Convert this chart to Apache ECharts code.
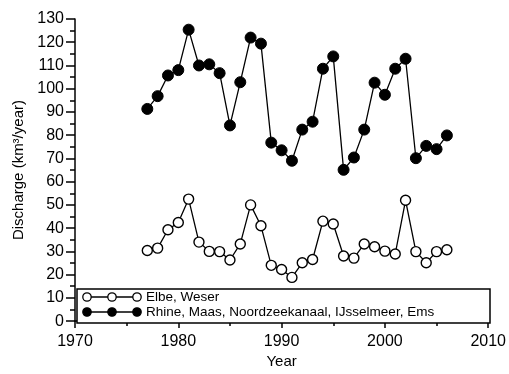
<!DOCTYPE html>
<html><head><meta charset="utf-8">
<script src="https://cdn.jsdelivr.net/npm/echarts@6/dist/echarts.min.js"></script>
<style>html,body{margin:0;padding:0;background:#fff}#c{width:509px;height:374px}</style>
</head><body><div id="c"></div>
<script>
const years = [1977,1978,1979,1980,1981,1982,1983,1984,1985,1986,1987,1988,1989,1990,1991,1992,1993,1994,1995,1996,1997,1998,1999,2000,2001,2002,2003,2004,2005,2006];
const elbe = [30.4,31.4,39.3,42.4,52.5,34,30,29.9,26.3,33.2,50,41,24,22.2,18.8,25.1,26.5,43,41.8,28,27.1,33.2,32,30.1,28.9,52,29.9,25.1,29.9,30.7];
const rhine = [91.3,96.8,105.7,108,125.4,110,110.5,106.7,84.2,102.8,122,119.4,76.8,73.5,69,82.4,85.8,108.6,113.9,65.1,70.4,82.4,102.6,97.4,108.6,112.9,70.1,75.4,74,79.9];
const seriesNames = ['Elbe, Weser','Rhine, Maas, Noordzeekanaal, IJsselmeer, Ems'];
const xTitle = 'Year';
const yTitle = 'Discharge (km³/year)';

const FONT = 'Liberation Sans';
const chart = echarts.init(document.getElementById('c'));
const pairs = arr => arr.map((v,i)=>[years[i], v]);

function legendRow(y, filled, label){
  const els = [{type:'line', shape:{x1:87,y1:y,x2:137,y2:y}, style:{stroke:'#000',lineWidth:1.3}}];
  [87,112,137].forEach(cx=>els.push({type:'circle', shape:{cx:cx,cy:y,r:4.2}, style:{fill:filled?'#000':'#fff', stroke:'#000', lineWidth:1.3}}));
  els.push({type:'text', x:146, y:y, style:{text:label, font:'13.5px "'+FONT+'"', fill:'#000', verticalAlign:'middle', align:'left'}});
  return els;
}

chart.setOption({
  animation:false,
  grid:{left:75,right:19,top:19,bottom:43},
  xAxis:{type:'value',min:1970,max:2010,interval:10,
    name:xTitle,nameLocation:'middle',nameGap:31,
    nameTextStyle:{fontFamily:FONT,fontSize:15,color:'#000'},
    axisLine:{lineStyle:{color:'#000',width:1.5}},
    axisTick:{length:7,lineStyle:{color:'#000',width:1.5}},
    minorTick:{show:true,splitNumber:2,length:5,lineStyle:{color:'#000',width:1.5}},
    splitLine:{show:false},
    axisLabel:{fontFamily:FONT,fontSize:16,color:'#000',margin:12,formatter:v=>String(v)}},
  yAxis:{type:'value',min:0,max:130,interval:10,
    name:yTitle,nameLocation:'middle',nameGap:46,
    nameTextStyle:{fontFamily:FONT,fontSize:15,color:'#000'},
    axisLine:{show:true,lineStyle:{color:'#000',width:1.5}},
    axisTick:{show:true,length:9,lineStyle:{color:'#000',width:1.5}},
    minorTick:{show:true,splitNumber:2,length:5,lineStyle:{color:'#000',width:1.5}},
    splitLine:{show:false},
    axisLabel:{fontFamily:FONT,fontSize:16,color:'#000',margin:11}},
  series:[
    {name:seriesNames[0],type:'line',data:pairs(elbe),symbol:'circle',symbolSize:10,
      lineStyle:{color:'#000',width:1.3},itemStyle:{color:'#fff',borderColor:'#000',borderWidth:1.4}},
    {name:seriesNames[1],type:'line',data:pairs(rhine),symbol:'circle',symbolSize:11,
      lineStyle:{color:'#000',width:1.3},itemStyle:{color:'#000',borderColor:'#000',borderWidth:1}}
  ],
  graphic:[
    {type:'rect', shape:{x:77,y:289,width:413,height:34}, style:{fill:'#fff',stroke:'#000',lineWidth:1.5}, z:10},
    ...legendRow(297,false,seriesNames[0]).map(e=>Object.assign(e,{z:11})),
    ...legendRow(312,true,seriesNames[1]).map(e=>Object.assign(e,{z:11}))
  ]
});
</script></body></html>
